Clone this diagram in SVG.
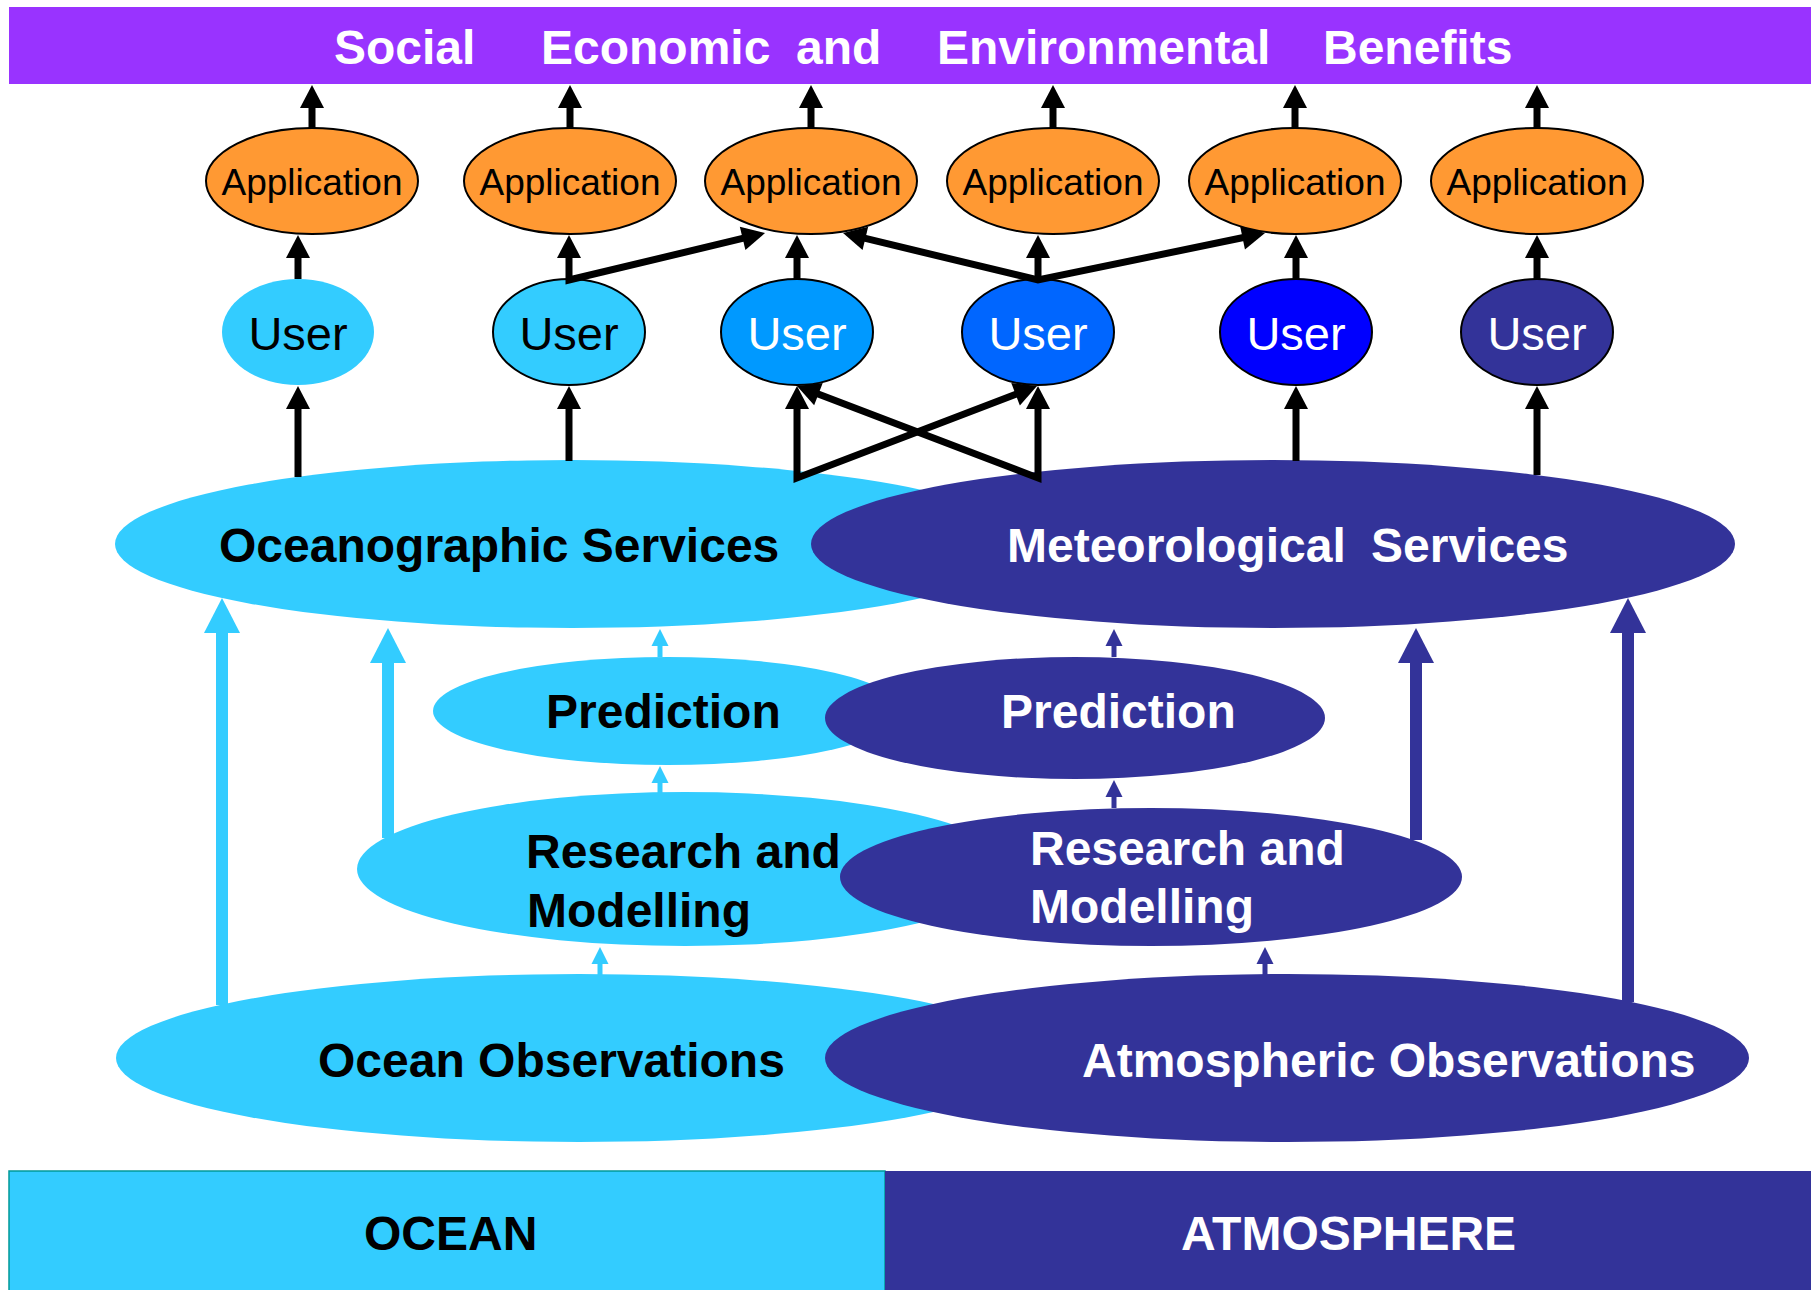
<svg xmlns="http://www.w3.org/2000/svg" width="1815" height="1290" viewBox="0 0 1815 1290">
  <style>
    .lbl { font-family: "Liberation Sans", Arial, sans-serif; font-weight: bold; font-size: 48px; }
    .app { fill: #FF9933; stroke: #000; stroke-width: 2; }
    .app-t { font-family: "Liberation Sans", Arial, sans-serif; font-size: 37px; fill: #000; text-anchor: middle; }
    .user-t { font-family: "Liberation Sans", Arial, sans-serif; font-size: 47px; text-anchor: middle; }
    .outl { stroke: #000; stroke-width: 2; }
    .w { fill: #fff; }
    .k { fill: #000; }
    .blk { fill: none; stroke: #000; stroke-width: 7; stroke-linejoin: miter; marker-end: url(#ahK); }
    .blk2 { fill: none; stroke: #000; stroke-width: 7; stroke-linejoin: miter; marker-start: url(#ahK); marker-end: url(#ahK); }
    .cy-s { stroke: #33CCFF; stroke-width: 5; marker-end: url(#ahCs); }
    .cy-b { stroke: #33CCFF; stroke-width: 12; marker-end: url(#ahCb); }
    .nv-s { stroke: #333399; stroke-width: 5; marker-end: url(#ahNs); }
    .nv-b { stroke: #333399; stroke-width: 12; marker-end: url(#ahNb); }
  </style>
  <defs>
    <marker id="ahK" markerUnits="userSpaceOnUse" viewBox="0 -13 24 26" refX="1" refY="0" markerWidth="24" markerHeight="26" orient="auto-start-reverse" overflow="visible">
      <path d="M0,-12 L23,0 L0,12 Z" fill="#000"/>
    </marker>
    <marker id="ahCs" markerUnits="userSpaceOnUse" viewBox="0 -9 18 18" refX="1" refY="0" markerWidth="18" markerHeight="18" orient="auto" overflow="visible">
      <path d="M0,-8.5 L17,0 L0,8.5 Z" fill="#33CCFF"/>
    </marker>
    <marker id="ahCb" markerUnits="userSpaceOnUse" viewBox="0 -19 36 38" refX="1" refY="0" markerWidth="36" markerHeight="38" orient="auto" overflow="visible">
      <path d="M0,-18 L35,0 L0,18 Z" fill="#33CCFF"/>
    </marker>
    <marker id="ahNs" markerUnits="userSpaceOnUse" viewBox="0 -9 18 18" refX="1" refY="0" markerWidth="18" markerHeight="18" orient="auto" overflow="visible">
      <path d="M0,-8.5 L17,0 L0,8.5 Z" fill="#333399"/>
    </marker>
    <marker id="ahNb" markerUnits="userSpaceOnUse" viewBox="0 -19 36 38" refX="1" refY="0" markerWidth="36" markerHeight="38" orient="auto" overflow="visible">
      <path d="M0,-18 L35,0 L0,18 Z" fill="#333399"/>
    </marker>
  </defs>

  <rect width="1815" height="1290" fill="#fff"/>

  <!-- benefits banner -->
  <g id="benefits">
    <rect x="9" y="7" width="1802" height="77" fill="#9933FF"/>
    <text class="lbl w" y="64"><tspan x="334">Social</tspan><tspan x="541">Economic</tspan><tspan x="796">and</tspan><tspan x="937">Environmental</tspan><tspan x="1323">Benefits</tspan></text>
  </g>

  <!-- applications -->
  <g id="app1"><ellipse class="app" cx="312" cy="181" rx="106" ry="53"/><text class="app-t" x="312" y="195">Application</text></g>
  <g id="app2"><ellipse class="app" cx="570" cy="181" rx="106" ry="53"/><text class="app-t" x="570" y="195">Application</text></g>
  <g id="app3"><ellipse class="app" cx="811" cy="181" rx="106" ry="53"/><text class="app-t" x="811" y="195">Application</text></g>
  <g id="app4"><ellipse class="app" cx="1053" cy="181" rx="106" ry="53"/><text class="app-t" x="1053" y="195">Application</text></g>
  <g id="app5"><ellipse class="app" cx="1295" cy="181" rx="106" ry="53"/><text class="app-t" x="1295" y="195">Application</text></g>
  <g id="app6"><ellipse class="app" cx="1537" cy="181" rx="106" ry="53"/><text class="app-t" x="1537" y="195">Application</text></g>

  <!-- users -->
  <g id="user1"><ellipse cx="298" cy="332" rx="76" ry="53" fill="#33CCFF"/><text class="user-t k" x="298" y="350">User</text></g>
  <g id="user2"><ellipse class="outl" cx="569" cy="332" rx="76" ry="53" fill="#33CCFF"/><text class="user-t k" x="569" y="350">User</text></g>
  <g id="user3"><ellipse class="outl" cx="797" cy="332" rx="76" ry="53" fill="#0099FF"/><text class="user-t w" x="797" y="350">User</text></g>
  <g id="user4"><ellipse class="outl" cx="1038" cy="332" rx="76" ry="53" fill="#0066FF"/><text class="user-t w" x="1038" y="350">User</text></g>
  <g id="user5"><ellipse class="outl" cx="1296" cy="332" rx="76" ry="53" fill="#0000FF"/><text class="user-t w" x="1296" y="350">User</text></g>
  <g id="user6"><ellipse class="outl" cx="1537" cy="332" rx="76" ry="53" fill="#333399"/><text class="user-t w" x="1537" y="350">User</text></g>

  <!-- services -->
  <g id="ocean-services">
    <ellipse cx="572" cy="544" rx="457" ry="84" fill="#33CCFF"/>
    <text class="lbl k" x="219" y="562">Oceanographic Services</text>
  </g>
  <g id="met-services">
    <ellipse cx="1273" cy="544" rx="462" ry="84" fill="#333399"/>
    <text class="lbl w" y="562"><tspan x="1007">Meteorological</tspan><tspan x="1371">Services</tspan></text>
  </g>

  <!-- prediction -->
  <g id="ocean-prediction">
    <ellipse cx="668" cy="711" rx="235" ry="54" fill="#33CCFF"/>
    <text class="lbl k" x="546" y="728">Prediction</text>
  </g>
  <g id="met-prediction">
    <ellipse cx="1075" cy="718" rx="250" ry="61" fill="#333399"/>
    <text class="lbl w" x="1001" y="728">Prediction</text>
  </g>

  <!-- research and modelling -->
  <g id="ocean-research">
    <ellipse cx="685" cy="869" rx="328" ry="77" fill="#33CCFF"/>
    <text class="lbl k"><tspan x="526" y="868">Research and</tspan><tspan x="527" y="927">Modelling</tspan></text>
  </g>
  <g id="met-research">
    <ellipse cx="1151" cy="877" rx="311" ry="69" fill="#333399"/>
    <text class="lbl w"><tspan x="1030" y="865">Research and</tspan><tspan x="1030" y="923">Modelling</tspan></text>
  </g>

  <!-- observations -->
  <g id="ocean-obs">
    <ellipse cx="579" cy="1058" rx="463" ry="84" fill="#33CCFF"/>
    <text class="lbl k" x="318" y="1077">Ocean Observations</text>
  </g>
  <g id="met-obs">
    <ellipse cx="1287" cy="1058" rx="462" ry="84" fill="#333399"/>
    <text class="lbl w" x="1082" y="1077">Atmospheric Observations</text>
  </g>

  <!-- domain bands -->
  <g id="ocean-band">
    <rect x="9" y="1171" width="876" height="125" fill="#33CCFF" stroke="#009999" stroke-width="1.5"/>
    <text class="lbl k" x="364" y="1250">OCEAN</text>
  </g>
  <g id="atmosphere-band">
    <rect x="885" y="1171" width="926" height="119" fill="#333399"/>
    <text class="lbl w" x="1181" y="1250">ATMOSPHERE</text>
  </g>

  <!-- connectors -->
  <g id="connectors">
    <!-- applications to benefits -->
    <path class="blk" d="M312,128 V107"/>
    <path class="blk" d="M570,128 V107"/>
    <path class="blk" d="M811,128 V107"/>
    <path class="blk" d="M1053,128 V107"/>
    <path class="blk" d="M1295,128 V107"/>
    <path class="blk" d="M1537,128 V107"/>

    <!-- users to applications -->
    <path class="blk" d="M298,279 V257"/>
    <path class="blk2" d="M569,257 V280 L743.6,238.2"/>
    <path class="blk" d="M797,279 V257"/>
    <path class="blk" d="M1038,279 V257"/>
    <path class="blk2" d="M864.4,238.2 L1038,280 L1243.5,237.5"/>
    <path class="blk" d="M1296,279 V257"/>
    <path class="blk" d="M1537,279 V257"/>

    <!-- services to users -->
    <path class="blk" d="M298,477 V408"/>
    <path class="blk" d="M569,461 V408"/>
    <path class="blk2" d="M797,408 V478 L1016.5,393.9"/>
    <path class="blk2" d="M1038,408 V478 L817.5,393.8"/>
    <path class="blk" d="M1296,461 V408"/>
    <path class="blk" d="M1537,475 V408"/>

    <!-- ocean chain -->
    <line class="cy-b" x1="222" y1="1005" x2="222" y2="632"/>
    <line class="cy-b" x1="388" y1="838" x2="388" y2="662"/>
    <line class="cy-s" x1="660" y1="657" x2="660" y2="645"/>
    <line class="cy-s" x1="660" y1="793" x2="660" y2="782"/>
    <line class="cy-s" x1="600" y1="975" x2="600" y2="963"/>

    <!-- atmosphere chain -->
    <line class="nv-s" x1="1114" y1="657" x2="1114" y2="645"/>
    <line class="nv-s" x1="1114" y1="808" x2="1114" y2="796"/>
    <line class="nv-s" x1="1265" y1="975" x2="1265" y2="963"/>
    <line class="nv-b" x1="1416" y1="840" x2="1416" y2="662"/>
    <line class="nv-b" x1="1628" y1="1002" x2="1628" y2="632"/>
  </g>
</svg>
